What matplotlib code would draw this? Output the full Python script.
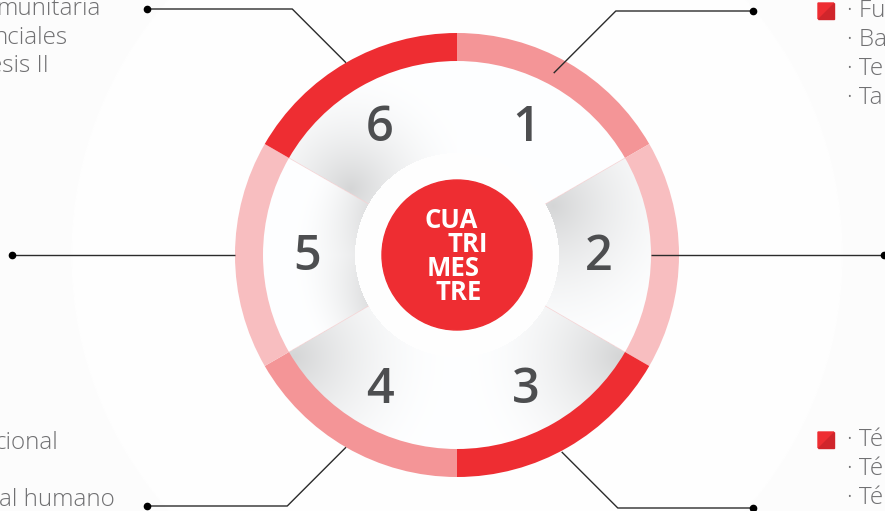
import numpy as np
import matplotlib.pyplot as plt
from matplotlib.patches import Wedge, Circle, Polygon

# segment data
segments = ['1', '2', '3', '4', '5', '6']
seg_start = [30, -30, -90, -150, 150, 90]      # visual angle, counter-clockwise
ring_colors = ['#F49597', '#F8BEC0', '#EE2D32', '#F49597', '#F8BEC0', '#EE2D32']
label_dy = [0, 2, 9, 9, 2, 0]
center_words = ['CUA', 'TRI', 'MES', 'TRE']
center_offsets = [-32, -9, -30, -22]

# side texts (clipped at the picture edge)
left_top = ['munitaria', 'nciales', 'esis II']
left_top_end = [101, 68, 49]
left_bottom = ['cional', 'al humano']
left_bottom_y = [443, 500]
left_bottom_end = [58, 115]
right_top = ['· Fu', '· Ba', '· Te', '· Ta']
right_bottom = ['· Té', '· Té', '· Té']

# connector: (angle, radius at ring, y of horizontal, x of dot)
connectors = [(62, 206, 11, 753), (0, 194, 255, 884), (-62, 223, 508, 753),
              (-120, 222, 506, 147), (180, 222, 255, 12), (120, 222, 9, 147)]

W, H = 885, 511
cx, cy = 457, 255
R_out, R_ring, R_in, R_dot = 222, 194, 102, 75

plt.rcParams['font.family'] = ['Open Sans', 'DejaVu Sans']
fig = plt.figure(figsize=(W / 100, H / 100), dpi=100)
ax = fig.add_axes([0, 0, 1, 1])
ax.set_xlim(0, W)
ax.set_ylim(H, 0)
ax.set_aspect('auto')
ax.axis('off')
fig.patch.set_facecolor('#FCFCFC')

ax.add_patch(Circle((cx, cy), 385, color='#FEFEFE', zorder=0))


def pt(ang, r):
    a = np.radians(ang)
    return cx + r * np.cos(a), cy - r * np.sin(a)


# shaded wedges as an image
xx, yy = np.meshgrid(np.arange(W) + 0.5, np.arange(H) + 0.5)
dx, dy = xx - cx, cy - yy
rr = np.hypot(dx, dy)
phi = np.degrees(np.arctan2(dy, dx))
dark = np.zeros_like(rr)
# segment index: (angle, radius of darkest spot, fade length)
shades = {1: (27, 108, 150), 2: (-32, 192, 150), 3: (-148, 192, 150), 5: (148, 125, 120)}
for k, (ang, r0, L) in shades.items():
    px, py = pt(ang, r0)
    d = np.hypot(xx - px, yy - py)
    p = (phi - seg_start[k]) % 360
    dark = np.where(p < 60, np.maximum(dark, 0.16 * np.clip(1 - d / L, 0, 1) ** 1.8), dark)
# segment 5 darkens towards the inner hole
p5 = (phi - 150) % 360
edge = np.clip(1 - (rr - R_in) / 60, 0, 1) ** 1.6 * (0.6 + 0.4 * np.abs(np.sin(np.radians(phi))) / 0.5)
dark = np.where(p5 < 60, np.maximum(dark, 0.12 * edge), dark)
g = 1 - dark
img = np.dstack([g - 0.006, g - 0.003, g, ((rr >= R_in) & (rr <= R_ring + 1)).astype(float)])
ax.imshow(img, extent=[0, W, H, 0], zorder=1, interpolation='bilinear')

# faint boundaries
for a in [30, -30, 150, -150]:
    x0, y0 = pt(a, R_in)
    x1, y1 = pt(a, R_ring)
    ax.plot([x0, x1], [y0, y1], color='#F6D3D4', lw=0.5, zorder=2)

# outer ring
for s, c in zip(seg_start, ring_colors):
    ax.add_patch(Wedge((cx, cy), R_out, -(s + 60), -s, width=R_out - R_ring,
                       facecolor=c, edgecolor='none', zorder=3))

# centre
ax.add_patch(Circle((cx, cy), R_dot, color='#EE2D32', zorder=3))
for i, (w, off) in enumerate(zip(center_words, center_offsets)):
    ax.text(cx + off, 220 + i * 24.2, w, color='white', fontsize=18.5, fontweight='bold',
            ha='left', va='center', zorder=4)

# numbers
for s, lab, ddy in zip(seg_start, segments, label_dy):
    x, y = pt(s + 30, 146)
    ax.text(x - 4, y + ddy, lab, fontsize=35, color='#4D4E50', ha='center', va='center',
            fontweight='semibold', zorder=4)

# connectors
for ang, r, yh, xd in connectors:
    x0, y0 = pt(ang, r)
    if yh == round(y0):
        xs, ys = [x0, xd], [y0, yh]
    else:
        xe = x0 + np.sign(xd - x0) * abs(yh - y0)
        xs, ys = [x0, xe, xd], [y0, yh, yh]
    ax.plot(xs, ys, color='#2B2B2B', lw=1.0, zorder=5, solid_capstyle='butt')
    ax.plot([xd], [yh], 'o', color='black', ms=4.5, zorder=6)

# side texts
txt = dict(fontsize=17.5, color='#707072', va='center', zorder=5, fontweight='light')
for i, (t, xe) in enumerate(zip(left_top, left_top_end)):
    ax.text(xe, 9 + 28.5 * i, t, ha='right', **txt)
for t, y, xe in zip(left_bottom, left_bottom_y, left_bottom_end):
    ax.text(xe, y, t, ha='right', **txt)
for i, t in enumerate(right_top):
    ax.text(847, 11 + 29 * i, t, ha='left', **txt)
for i, t in enumerate(right_bottom):
    ax.text(847, 440 + 29 * i, t, ha='left', **txt)

# red squares
for y0 in [3, 432]:
    ax.add_patch(Polygon([(818, y0), (834, y0), (818, y0 + 16)], color='#EE2D32', zorder=5))
    ax.add_patch(Polygon([(834, y0), (834, y0 + 16), (818, y0 + 16)], color='#D0252B', zorder=5))

fig.savefig('out.png', dpi=100, facecolor=fig.get_facecolor())
